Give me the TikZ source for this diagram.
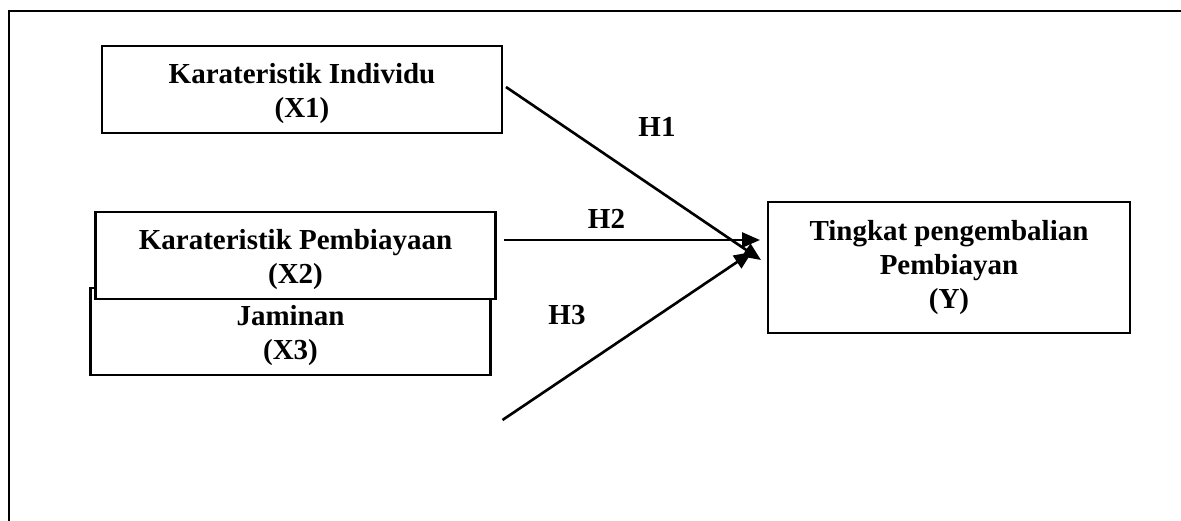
\documentclass[tikz,border=0pt]{standalone}
\usepackage{fontspec}
\setmainfont{Liberation Serif}
\usetikzlibrary{arrows.meta}
\tikzstyle{varbox} = [rectangle,draw,line width=1.2pt,fill=white,inner sep=0pt,align=center,minimum width=8cm,minimum height=1.74cm,font=\fontsize{16.5}{19.4}\selectfont\bfseries]
\tikzstyle{hyp} = [inner sep=0pt,font=\fontsize{16.5}{19.4}\selectfont\bfseries]
\tikzstyle{path} = [line width=1.5pt,-{Triangle[length=0.36cm,width=0.3cm]}]
\newcommand{\capstrut}{\rule{0pt}{0.55cm}}

\begin{document}
\begin{tikzpicture}[x=0.02cm,y=-0.02cm]
\useasboundingbox (0,0) rectangle (1181,521);
\draw[line width=1.3pt] (9,521) -- (9,11) -- (1181,11);

\node [varbox](x1) at (302,89.5){\capstrut Karateristik Individu\\(X1)};
\node [varbox](x3) at (290.5,331.5){\capstrut Jaminan\\(X3)};
\node [varbox](x2) at (295.5,255.5){\capstrut Karateristik Pembiayaan\\(X2)};
\node [varbox,minimum width=7.25cm,minimum height=2.62cm](y) at (949,267.5){Tingkat pengembalian\\Pembiayan\\(Y)};

\node [hyp](h1) at (657,127){H1};
\node [hyp](h2) at (606.5,219){H2};
\node [hyp](h3) at (567,315){H3};

\coordinate (s1) at (506,87);
\coordinate (s2) at (504,240);
\coordinate (s3) at (502.5,420);
\coordinate (t1) at (761,260);
\coordinate (t2) at (760,240);
\coordinate (t3) at (752,252);

\draw[path](s1)--(t1);
\draw[path](s2)--(t2);
\draw[path](s3)--(t3);

\end{tikzpicture}
\end{document}
